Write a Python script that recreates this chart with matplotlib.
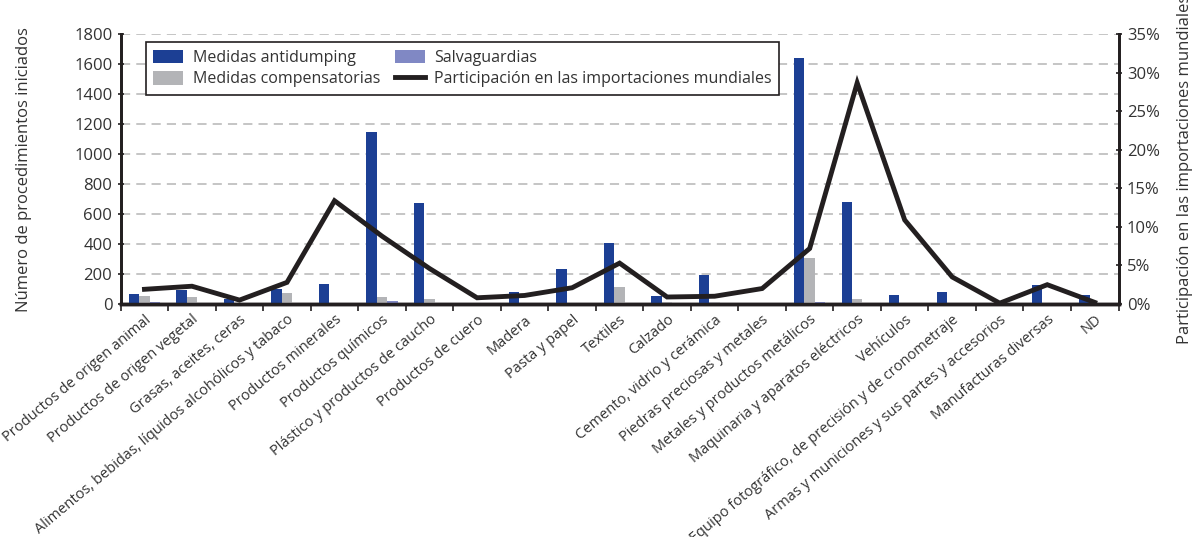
import matplotlib.pyplot as plt
import numpy as np
from matplotlib.ticker import FixedLocator, FuncFormatter

plt.rcParams["font.family"] = ["Open Sans", "DejaVu Sans"]

CATEGORIES = [
    "Productos de origen animal",
    "Productos de origen vegetal",
    "Grasas, aceites, ceras",
    "Alimentos, bebidas, líquidos alcohólicos y tabaco",
    "Productos minerales",
    "Productos químicos",
    "Plástico y productos de caucho",
    "Productos de cuero",
    "Madera",
    "Pasta y papel",
    "Textiles",
    "Calzado",
    "Cemento, vidrio y cerámica",
    "Piedras preciosas y metales",
    "Metales y productos metálicos",
    "Maquinaria y aparatos eléctricos",
    "Vehículos",
    "Equipo fotográfico, de precisión y de cronometraje",
    "Armas y municiones y sus partes y accesorios",
    "Manufacturas diversas",
    "ND",
]
ANTIDUMPING = [67, 93, 30, 102, 131, 1149, 673, 5, 80, 233, 404, 53, 191, 0, 1640, 682, 58, 78, 0, 127, 60]
COMPENSATORIAS = [56, 47, 8, 71, 0, 49, 36, 0, 3, 2, 111, 10, 15, 0, 307, 31, 0, 0, 0, 0, 0]
SALVAGUARDIAS = [10, 8, 0, 8, 0, 22, 0, 0, 0, 0, 0, 0, 8, 0, 16, 0, 0, 0, 0, 0, 0]
PARTICIPACION = [1.9, 2.3, 0.5, 2.8, 13.4, 8.8, 4.6, 0.8, 1.1, 2.1, 5.3, 0.9, 1.0, 2.0,
                 7.2, 28.7, 10.9, 3.5, 0.1, 2.5, 0.2]

BLUE = "#1c3f94"
GRAY = "#b3b4b7"
LILAC = "#8088c4"
TEXT = "#333333"

fig = plt.figure(figsize=(11.95, 5.37), dpi=100)
ax = fig.add_axes([0.101, 0.434, 0.835, 0.502])
ax2 = ax.twinx()

x = np.arange(len(CATEGORIES))
w = 0.22
ax.bar(x - w, ANTIDUMPING, w, color=BLUE, label="Medidas antidumping", zorder=3)
ax.bar(x, COMPENSATORIAS, w, color=GRAY, label="Medidas compensatorias", zorder=3)
ax.bar(x + w, SALVAGUARDIAS, w, color=LILAC, label="Salvaguardias", zorder=3)
ax2.plot(x, PARTICIPACION, color="#231f20", linewidth=3.5, solid_joinstyle="miter",
         label="Participación en las importaciones mundiales", zorder=4)

ax.set_xlim(-0.5, len(CATEGORIES) - 0.5)
ax.set_ylim(0, 1800)
ax.set_yticks(np.arange(0, 1801, 200))
ax2.set_ylim(0, 35)
ax2.set_yticks(np.arange(0, 36, 5))
ax2.yaxis.set_major_formatter(FuncFormatter(lambda v, _: f"{v:.0f}%"))

ax.yaxis.grid(True, color="#b5b5b5", linestyle=(0, (6, 4)), linewidth=1.1, zorder=0)
ax.set_axisbelow(True)

ax.set_xticks(x)
ax.set_xticklabels(CATEGORIES, rotation=40, ha="right", rotation_mode="anchor",
                   fontsize=10.5, color=TEXT)
ax.tick_params(axis="x", length=0, pad=6)
ax.xaxis.set_minor_locator(FixedLocator(np.arange(-0.5, len(CATEGORIES), 1)))
ax.tick_params(axis="x", which="minor", length=5, width=1.2, color="#231f20")

ax.tick_params(axis="y", labelsize=12, colors=TEXT, length=5, width=1.2, direction="inout")
ax2.tick_params(axis="y", labelsize=12, colors=TEXT, length=5, width=1.2, direction="inout")
for a in (ax, ax2):
    a.tick_params(axis="y", color="#231f20")
    a.spines["top"].set_visible(False)
    a.spines["left"].set_linewidth(2)
    a.spines["right"].set_linewidth(2)
    a.spines["bottom"].set_linewidth(2.5)
    for s in ("left", "right", "bottom"):
        a.spines[s].set_color("#231f20")

ax.set_ylabel("Número de procedimientos iniciados", fontsize=12, color=TEXT, labelpad=30)
ax2.set_ylabel("Participación en las importaciones mundiales", fontsize=12, color=TEXT, labelpad=12)

h1, l1 = ax.get_legend_handles_labels()
h2, l2 = ax2.get_legend_handles_labels()
leg = ax2.legend(h1 + h2, l1 + l2, ncol=2, loc="upper left", bbox_to_anchor=(0.017, 1.0),
                 fontsize=11.5, frameon=True, fancybox=False, edgecolor="#231f20",
                 framealpha=1, handlelength=1.9, handleheight=0.9, columnspacing=0.9,
                 handletextpad=0.6, borderpad=0.45, labelspacing=0.35)
leg.get_frame().set_linewidth(1.2)
for t in leg.get_texts():
    t.set_color(TEXT)

fig.savefig("out.png", dpi=100)
